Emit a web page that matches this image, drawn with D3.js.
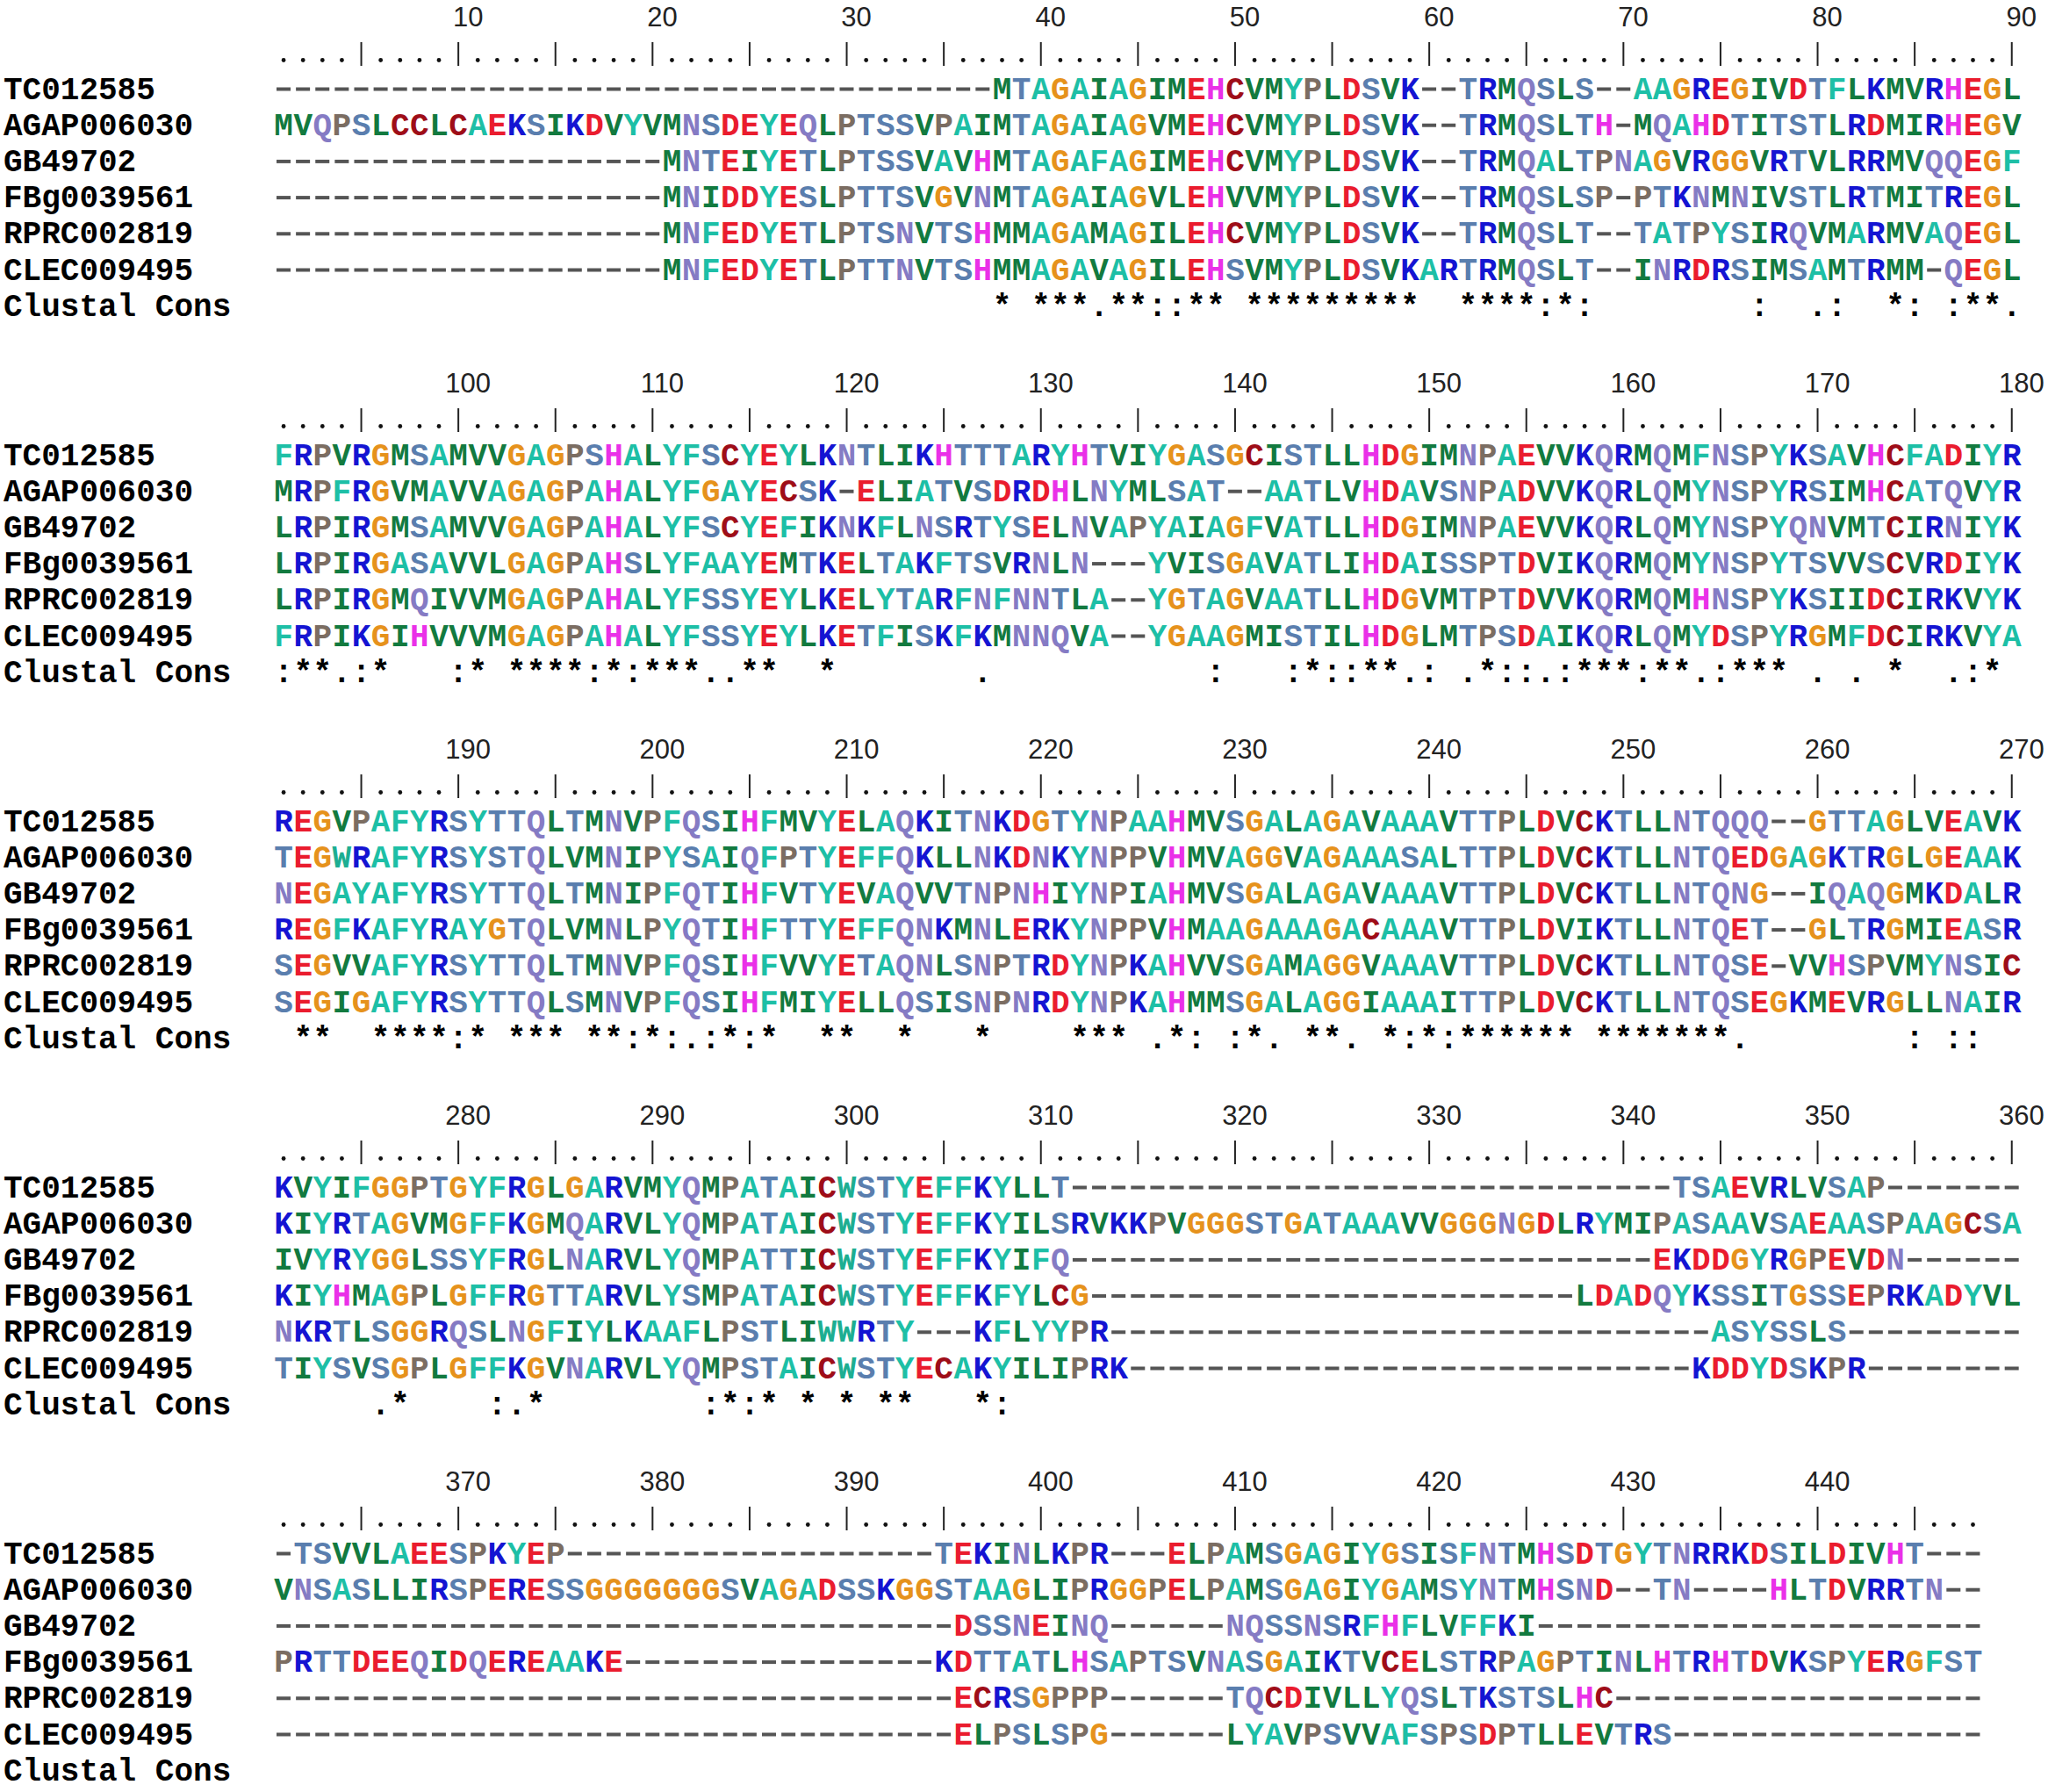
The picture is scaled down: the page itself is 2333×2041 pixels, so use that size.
<!DOCTYPE html>
<html lang="en">
<head>
<meta charset="UTF-8">
<title>Clustal alignment</title>
<script src="https://d3js.org/d3.v7.min.js"></script>
<style>
  body { margin: 0; background: #fff; }
  svg { display: block; }
  .res, .label, .cons { font-family: "Courier New", "Liberation Mono", monospace; font-weight: bold; font-size: 36px; }
  .num { font-family: "Liberation Sans", Arial, sans-serif; font-size: 31px; fill: #222; }
</style>
</head>
<body>
<svg width="2333" height="2041"></svg>
<script>
// alignment blocks, written in groups of ten like the original interleaved file
const seqNames = ["TC012585", "AGAP006030", "GB49702", "FBg0039561", "RPRC002819", "CLEC009495"];

const TC012585 = [
  "---------- ---------- ---------- -------MTA GAIAGIMEHC VMYPLDSVK- -TRMQSLS-- AAGREGIVDT FLKMVRHEGL",
  "FRPVRGMSAM VVGAGPSHAL YFSCYEYLKN TLIKHTTTAR YHTVIYGASG CISTLLHDGI MNPAEVVKQR MQMFNSPYKS AVHCFADIYR",
  "REGVPAFYRS YTTQLTMNVP FQSIHFMVYE LAQKITNKDG TYNPAAHMVS GALAGAVAAA VTTPLDVCKT LLNTQQQ--G TTAGLVEAVK",
  "KVYIFGGPTG YFRGLGARVM YQMPATAICW STYEFFKYLL T--------- ---------- ---------- --TSAEVRLV SAP-------",
  "-TSVVLAEES PKYEP----- ---------- ----TEKINL KPR---ELPA MSGAGIYGSI SFNTMHSDTG YTNRRKDSIL DIVHT---"
];
const AGAP006030 = [
  "MVQPSLCCLC AEKSIKDVYV MNSDEYEQLP TSSVPAIMTA GAIAGVMEHC VMYPLDSVK- -TRMQSLTH- MQAHDTITST LRDMIRHEGV",
  "MRPFRGVMAV VAGAGPAHAL YFGAYECSK- ELIATVSDRD HLNYMLSAT- -AATLVHDAV SNPADVVKQR LQMYNSPYRS IMHCATQVYR",
  "TEGWRAFYRS YSTQLVMNIP YSAIQFPTYE FFQKLLNKDN KYNPPVHMVA GGVAGAAASA LTTPLDVCKT LLNTQEDGAG KTRGLGEAAK",
  "KIYRTAGVMG FFKGMQARVL YQMPATAICW STYEFFKYIL SRVKKPVGGG STGATAAAVV GGGNGDLRYM IPASAAVSAE AASPAAGCSA",
  "VNSASLLIRS PERESSGGGG GGGSVAGADS SKGGSTAAGL IPRGGPELPA MSGAGIYGAM SYNTMHSND- -TN----HLT DVRRTN--"
];
const GB49702 = [
  "---------- ---------- MNTEIYETLP TSSVAVHMTA GAFAGIMEHC VMYPLDSVK- -TRMQALTPN AGVRGGVRTV LRRMVQQEGF",
  "LRPIRGMSAM VVGAGPAHAL YFSCYEFIKN KFLNSRTYSE LNVAPYAIAG FVATLLHDGI MNPAEVVKQR LQMYNSPYQN VMTCIRNIYK",
  "NEGAYAFYRS YTTQLTMNIP FQTIHFVTYE VAQVVTNPNH IYNPIAHMVS GALAGAVAAA VTTPLDVCKT LLNTQNG--I QAQGMKDALR",
  "IVYRYGGLSS YFRGLNARVL YQMPATTICW STYEFFKYIF Q--------- ---------- ---------- -EKDDGYRGP EVDN------",
  "---------- ---------- ---------- -----DSSNE INQ------N QSSNSRFHFL VFFKI----- ---------- --------"
];
const FBg0039561 = [
  "---------- ---------- MNIDDYESLP TTSVGVNMTA GAIAGVLEHV VMYPLDSVK- -TRMQSLSP- PTKNMNIVST LRTMITREGL",
  "LRPIRGASAV VLGAGPAHSL YFAAYEMTKE LTAKFTSVRN LN---YVISG AVATLIHDAI SSPTDVIKQR MQMYNSPYTS VVSCVRDIYK",
  "REGFKAFYRA YGTQLVMNLP YQTIHFTTYE FFQNKMNLER KYNPPVHMAA GAAAGACAAA VTTPLDVIKT LLNTQET--G LTRGMIEASR",
  "KIYHMAGPLG FFRGTTARVL YSMPATAICW STYEFFKFYL CG-------- ---------- -------LDA DQYKSSITGS SEPRKADYVL",
  "PRTTDEEQID QEREAAKE-- ---------- ----KDTTAT LHSAPTSVNA SGAIKTVCEL STRPAGPTIN LHTRHTDVKS PYERGFST"
];
const RPRC002819 = [
  "---------- ---------- MNFEDYETLP TSNVTSHMMA GAMAGILEHC VMYPLDSVK- -TRMQSLT-- TATPYSIRQV MARMVAQEGL",
  "LRPIRGMQIV VMGAGPAHAL YFSSYEYLKE LYTARFNFNN TLA--YGTAG VAATLLHDGV MTPTDVVKQR MQMHNSPYKS IIDCIRKVYK",
  "SEGVVAFYRS YTTQLTMNVP FQSIHFVVYE TAQNLSNPTR DYNPKAHVVS GAMAGGVAAA VTTPLDVCKT LLNTQSE-VV HSPVMYNSIC",
  "NKRTLSGGRQ SLNGFIYLKA AFLPSTLIWW RTY---KFLY YPR------- ---------- ---------- ----ASYSSL S---------",
  "---------- ---------- ---------- -----ECRSG PPP------T QCDIVLLYQS LTKSTSLHC- ---------- --------"
];
const CLEC009495 = [
  "---------- ---------- MNFEDYETLP TTNVTSHMMA GAVAGILEHS VMYPLDSVKA RTRMQSLT-- INRDRSIMSA MTRMM-QEGL",
  "FRPIKGIHVV VMGAGPAHAL YFSSYEYLKE TFISKFKMNN QVA--YGAAG MISTILHDGL MTPSDAIKQR LQMYDSPYRG MFDCIRKVYA",
  "SEGIGAFYRS YTTQLSMNVP FQSIHFMIYE LLQSISNPNR DYNPKAHMMS GALAGGIAAA ITTPLDVCKT LLNTQSEGKM EVRGLLNAIR",
  "TIYSVSGPLG FFKGVNARVL YQMPSTAICW STYECAKYIL IPRK------ ---------- ---------- ---KDDYDSK PR--------",
  "---------- ---------- ---------- -----ELPSL SPG------L YAVPSVVAFS PSDPTLLEVT RS-------- --------"
];

// Clustal consensus line, groups of ten split by "|" (spaces are meaningful)
const consensus = [
  "          |          |          |       * *|**.**::** |********* | ****:*:  |      :  .|:  *: :**.",
  ":**.:*   :|* ****:*:*|**..**  * |      .   |        : |  :*::**.:| .*::.:***|:**.:*** .| . *  .:* ",
  " **  ****:|* *** **:*|:.:*:*  **|  *   *   | *** .*: :|*. **. *:*|:****** **|*****.    |    : ::  ",
  "     .*   | :.*      |  :*:* * *| **   *:  |          |          |          |          |          ",
  ""
];

const blockStart = [1, 91, 181, 271, 361];
const rulerLabels = [
  [10, 20, 30, 40, 50, 60, 70, 80, 90],
  [100, 110, 120, 130, 140, 150, 160, 170, 180],
  [190, 200, 210, 220, 230, 240, 250, 260, 270],
  [280, 290, 300, 310, 320, 330, 340, 350, 360],
  [370, 380, 390, 400, 410, 420, 430, 440]
];

const residueColor = {
  M: "#127a3f", V: "#127a3f", L: "#127a3f", I: "#127a3f",
  A: "#1dbfa6", F: "#1dbfa6", Y: "#1dbfa6", W: "#1dae92",
  S: "#5a7eae", T: "#5a7eae",
  N: "#857bc4", Q: "#857bc4",
  D: "#ea1c2e", E: "#ea1c2e",
  K: "#1414d2", R: "#1414d2",
  H: "#ea30e8", G: "#e6921c", P: "#7b6d62", C: "#9e0d18"
};

const allSeqs = [TC012585, AGAP006030, GB49702, FBg0039561, RPRC002819, CLEC009495]
  .map(blocks => blocks.map(s => s.replace(/ /g, "")));
const consBlocks = consensus.map(s => s.split("|").join(""));

const cell = 22.12, seqLeft = 312;
const blockPitch = 417, firstRow = 112.5, rowPitch = 41.2;

const svg = d3.select("svg");

const x = d3.scaleBand()
  .domain(d3.range(1, 91))
  .range([seqLeft, seqLeft + 90 * cell]);
const xc = p => x(p) + x.bandwidth() / 2;

// sanity check on the typed data
const problems = [];
allSeqs.forEach((blocks, i) => blocks.forEach((s, b) => {
  const want = b === 4 ? 88 : 90;
  if (s.length !== want) problems.push(`${seqNames[i]} block ${b + 1}: ${s.length}`);
}));
consBlocks.forEach((s, b) => { if (s.length > 90) problems.push(`cons ${b + 1}: ${s.length}`); });

blockStart.forEach((start, b) => {
  const g = svg.append("g").attr("transform", `translate(0,${b * blockPitch})`);
  const len = allSeqs[0][b].length;
  const cols = d3.range(1, len + 1);

  // ruler numbers
  g.selectAll("text.num")
    .data(rulerLabels[b])
    .join("text")
    .attr("class", "num")
    .attr("x", d => x(d - start + 1) + x.bandwidth())
    .attr("y", 30)
    .attr("text-anchor", "middle")
    .text(d => d);

  // ruler: bar every 5th column, dot elsewhere
  g.selectAll("line.tick")
    .data(cols.filter(p => p % 5 === 0))
    .join("line")
    .attr("x1", xc).attr("x2", xc)
    .attr("y1", 48).attr("y2", 75)
    .attr("stroke", "#222")
    .attr("stroke-width", 2);

  g.selectAll("circle.dot")
    .data(cols.filter(p => p % 5 !== 0))
    .join("circle")
    .attr("cx", xc)
    .attr("cy", 68.5)
    .attr("r", 2.4)
    .attr("fill", "#111");

  const rows = seqNames.map((name, i) => ({ name, seq: allSeqs[i][b], cons: false }))
    .concat([{ name: "Clustal Cons", seq: consBlocks[b], cons: true }]);

  rows.forEach((row, i) => {
    const y = firstRow + i * rowPitch;
    const r = g.append("g");

    r.append("text")
      .attr("class", "label")
      .attr("x", 4)
      .attr("y", y)
      .attr("fill", "#000")
      .text(row.name);

    const chars = Array.from(row.seq).map((c, j) => ({ c, p: j + 1 }));

    r.selectAll("rect.gap")
      .data(chars.filter(d => d.c === "-"))
      .join("rect")
      .attr("x", d => x(d.p) + 3)
      .attr("y", y - 13)
      .attr("width", 16)
      .attr("height", 4)
      .attr("fill", "#555");

    r.selectAll("text.res")
      .data(chars.filter(d => d.c !== "-" && d.c !== " "))
      .join("text")
      .attr("class", row.cons ? "cons" : "res")
      .attr("x", d => xc(d.p))
      .attr("y", y)
      .attr("text-anchor", "middle")
      .attr("fill", d => row.cons ? "#000" : (residueColor[d.c] || "#000"))
      .text(d => d.c);
  });
});

if (problems.length) {
  svg.append("text").attr("x", 10).attr("y", 2030).attr("fill", "red")
    .attr("font-size", 24).text("length mismatch: " + problems.join("; "));
}
</script>
</body>
</html>
